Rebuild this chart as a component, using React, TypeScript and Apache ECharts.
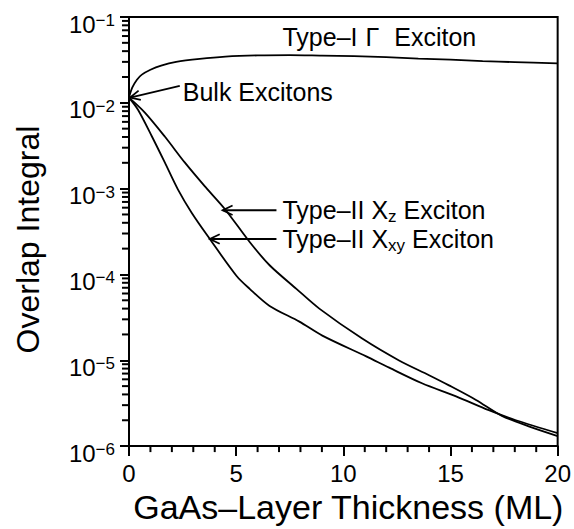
import React, { useEffect, useRef } from 'react';
import * as echarts from 'echarts';

// Type-I Gamma exciton
const gammaX = [0, 0.15, 0.37, 0.6, 1.0, 1.5, 2.2, 3.3, 4.5, 6, 7.5, 9, 10.5, 12, 13.5, 15, 16.5, 18, 20];
const gammaY = [0.0115, 0.0150, 0.0186, 0.0213, 0.0243, 0.0272, 0.0300, 0.0325, 0.0345, 0.0357, 0.0360, 0.0355, 0.0350, 0.0340, 0.0328, 0.0318, 0.0306, 0.0298, 0.0288];

// Type-II Xz exciton
const xzX = [0, 0.74, 1.67, 2.6, 3.53, 4.47, 5.63, 6.56, 7.81, 8.88, 10.88, 12.6, 14.0, 14.93, 16.19, 17.4, 18.65, 20];
const xzY = [0.0115, 7.7e-3, 4.05e-3, 2.02e-3, 1.07e-3, 5.8e-4, 2.39e-4, 1.28e-4, 6.8e-5, 4.0e-5, 1.79e-5, 9.95e-6, 6.7e-6, 5.1e-6, 3.45e-6, 2.25e-6, 1.70e-6, 1.31e-6];

// Type-II Xxy exciton
const xxyX = [0, 0.42, 1.07, 1.67, 2.28, 2.93, 3.77, 5.02, 5.63, 6.56, 7.95, 9.02, 11.07, 12.14, 13.67, 15.26, 16.79, 18.05, 20];
const xxyY = [0.0115, 8.3e-3, 4.05e-3, 2.02e-3, 9.8e-4, 5.2e-4, 2.59e-4, 9.6e-5, 6.8e-5, 4.3e-5, 2.82e-5, 1.94e-5, 1.11e-5, 8.2e-6, 5.4e-6, 3.8e-6, 2.62e-6, 2.0e-6, 1.42e-6];

// minor ticks: 2..9 x each decade on y, every 1 ML on x
const minorDecades = [-6, -5, -4, -3, -2];
const minorMultipliers = [2, 3, 4, 5, 6, 7, 8, 9];
const xMinorTicks = [1, 2, 3, 4, 6, 7, 8, 9, 11, 12, 13, 14, 16, 17, 18, 19];

// annotation texts and anchor points (data coordinates)
const annotations = [
  { text: '{m|Type–I}{g|Γ}{m|Exciton}', textX: 7.16, textY: 0.0578 },
  { text: '{m|Bulk Excitons}', tipX: 0.05, tipY: 0.0115, tailX: 2.37, tailY: 0.0158, textX: 2.51, textY: 0.0135 },
  { text: '{m|Type–II X}{sub|z}{m| Exciton}', tipX: 4.37, tipY: 5.6e-4, tailX: 6.88, tailY: 5.6e-4, textX: 7.16, textY: 5.6e-4 },
  { text: '{m|Type–II X}{sub|xy}{m| Exciton}', tipX: 3.77, tipY: 2.59e-4, tailX: 6.88, tailY: 2.59e-4, textX: 7.16, textY: 2.59e-4 },
];

const FONT = '"Liberation Sans", Arial, Helvetica, sans-serif';
const zip = (xs: number[], ys: number[]) => xs.map((x, i) => [x, ys[i]]);

export default function App() {
  const ref = useRef<HTMLDivElement>(null);
  useEffect(() => {
    if (!ref.current) return;
    const chart = echarts.init(ref.current, undefined, { renderer: 'svg' });
    const minorVals: number[] = [];
    minorDecades.forEach((d) => minorMultipliers.forEach((m) => minorVals.push(m * Math.pow(10, d))));

    const lineStyle = { color: '#000', width: 1.8 };
    const richText = {
      m: { fontSize: 25, fontFamily: FONT, color: '#000', lineHeight: 30 },
      g: { fontSize: 25, fontFamily: FONT, color: '#000', lineHeight: 30, padding: [0, 15, 0, 8] },
      sub: { fontSize: 17, fontFamily: FONT, color: '#000', lineHeight: 12, verticalAlign: 'bottom' },
    };

    chart.setOption({
      animation: false,
      backgroundColor: '#fff',
      grid: { left: 129, right: 15, top: 17, bottom: 81, show: true, borderColor: '#000', borderWidth: 2, backgroundColor: 'transparent' },
      xAxis: {
        type: 'value', min: 0, max: 20, interval: 5,
        name: 'GaAs–Layer Thickness (ML)', nameLocation: 'middle', nameGap: 36,
        nameTextStyle: { fontSize: 34, fontFamily: FONT, color: '#000', padding: [0, 0, 0, 10] },
        axisLine: { show: true, lineStyle: { color: '#000', width: 2 } },
        axisTick: { show: true, inside: false, length: 10, lineStyle: { color: '#000', width: 2 } },
        axisLabel: { fontSize: 24, fontFamily: FONT, color: '#000', margin: 15 },
        splitLine: { show: false },
      },
      yAxis: {
        type: 'log', logBase: 10, min: 1e-6, max: 1e-1,
        name: 'Overlap Integral', nameLocation: 'middle', nameGap: 85,
        nameTextStyle: { fontSize: 32, fontFamily: FONT, color: '#000', padding: [0, 16, 0, 0] },
        axisLine: { show: true, lineStyle: { color: '#000', width: 2 } },
        axisTick: { show: true, inside: false, length: 9, lineStyle: { color: '#000', width: 2 } },
        axisLabel: {
          margin: 14,
          padding: [14, 0, 0, 0],
          formatter: (v: number) => `{b|10}{s|−${Math.abs(Math.round(Math.log10(v)))}}`,
          rich: {
            b: { fontSize: 24, fontFamily: FONT, color: '#000', lineHeight: 24 },
            s: { fontSize: 17, fontFamily: FONT, color: '#000', lineHeight: 17, verticalAlign: 'top' },
          },
        },
        splitLine: { show: false },
      },
      series: [
        { type: 'line', data: zip(gammaX, gammaY), showSymbol: false, smooth: 0.3, lineStyle, itemStyle: { color: '#000' } },
        { type: 'line', data: zip(xzX, xzY), showSymbol: false, smooth: 0.3, lineStyle, itemStyle: { color: '#000' } },
        { type: 'line', data: zip(xxyX, xxyY), showSymbol: false, smooth: 0.3, lineStyle, itemStyle: { color: '#000' } },
        {
          type: 'custom', clip: false, silent: true,
          data: annotations.map((a) => [a.textX, a.textY]),
          renderItem: (params: any, api: any) => {
            const a: any = annotations[params.dataIndex];
            const children: any[] = [];
            if (a.tipX != null) {
              const tip = api.coord([a.tipX, a.tipY]);
              const tail = api.coord([a.tailX, a.tailY]);
              const ang = Math.atan2(tail[1] - tip[1], tail[0] - tip[0]);
              const L = 11, sp = 0.45;
              children.push({ type: 'line', shape: { x1: tail[0], y1: tail[1], x2: tip[0], y2: tip[1] }, style: { stroke: '#000', lineWidth: 1.8 } });
              children.push({
                type: 'polyline',
                shape: { points: [[tip[0] + L * Math.cos(ang + sp), tip[1] + L * Math.sin(ang + sp)], [tip[0], tip[1]], [tip[0] + L * Math.cos(ang - sp), tip[1] + L * Math.sin(ang - sp)]] },
                style: { stroke: '#000', fill: 'none', lineWidth: 1.8 },
              });
            }
            const tp = api.coord([a.textX, a.textY]);
            children.push({ type: 'text', x: tp[0], y: tp[1], style: { text: a.text, rich: richText, fontSize: 25, fontFamily: FONT, fill: '#000', align: 'left', verticalAlign: 'middle' } });
            return { type: 'group', children };
          },
        },
      ],
    });

    // minor ticks placed through the chart's own axis scales
    const tickStyle = { stroke: '#000', lineWidth: 2 };
    const elements: any[] = [];
    minorVals.forEach((v) => {
      const p = chart.convertToPixel({ gridIndex: 0 }, [0, v]) as number[];
      elements.push({ type: 'line', z: 100, shape: { x1: p[0] - 7, y1: p[1], x2: p[0], y2: p[1] }, style: tickStyle, silent: true });
    });
    xMinorTicks.forEach((x) => {
      const p = chart.convertToPixel({ gridIndex: 0 }, [x, 1e-6]) as number[];
      elements.push({ type: 'line', z: 100, shape: { x1: p[0], y1: p[1], x2: p[0], y2: p[1] + 6 }, style: tickStyle, silent: true });
    });
    chart.setOption({ graphic: { elements } });

    return () => chart.dispose();
  }, []);
  return <div ref={ref} style={{ position: 'fixed', left: 0, top: 0, width: 574, height: 529 }} />;
}
